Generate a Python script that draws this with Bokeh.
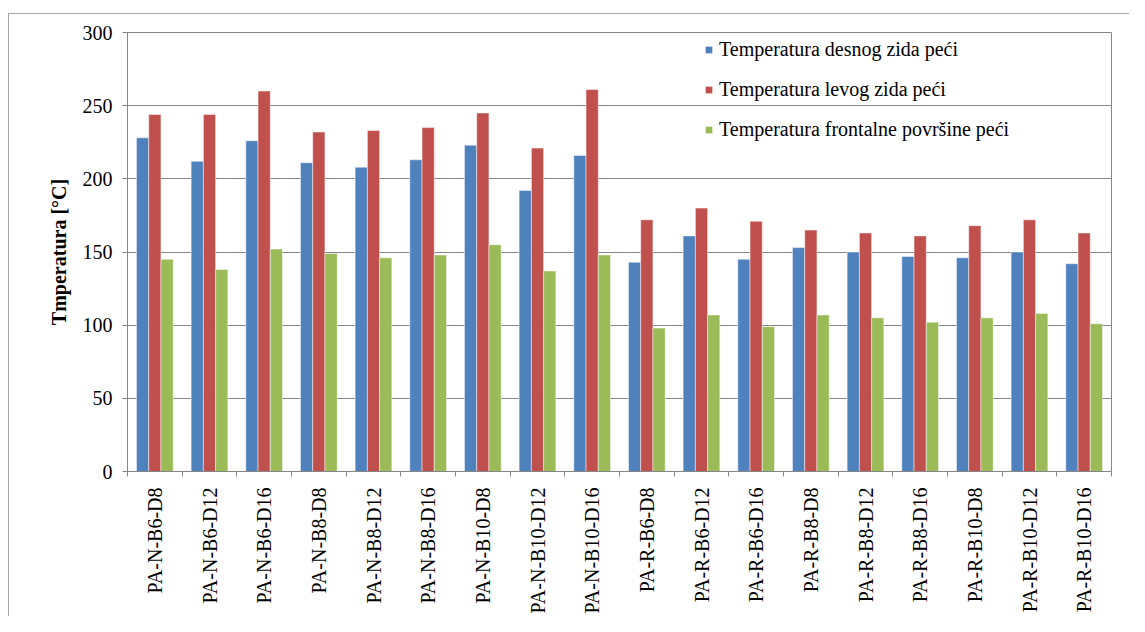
import math
from bokeh.plotting import figure
from bokeh.models import ColumnDataSource, FixedTicker, Legend, LegendItem, InlineStyleSheet
from bokeh.transform import dodge
from bokeh.embed import file_html
from bokeh.resources import INLINE

categories = ["PA-N-B6-D8", "PA-N-B6-D12", "PA-N-B6-D16", "PA-N-B8-D8", "PA-N-B8-D12",
              "PA-N-B8-D16", "PA-N-B10-D8", "PA-N-B10-D12", "PA-N-B10-D16",
              "PA-R-B6-D8", "PA-R-B6-D12", "PA-R-B6-D16", "PA-R-B8-D8", "PA-R-B8-D12",
              "PA-R-B8-D16", "PA-R-B10-D8", "PA-R-B10-D12", "PA-R-B10-D16"]
desni = [228, 212, 226, 211, 208, 213, 223, 192, 216, 143, 161, 145, 153, 150, 147, 146, 150, 142]
levi = [244, 244, 260, 232, 233, 235, 245, 221, 261, 172, 180, 171, 165, 163, 161, 168, 172, 163]
frontalna = [145, 138, 152, 149, 146, 148, 155, 137, 148, 98, 107, 99, 107, 105, 102, 105, 108, 101]
series_names = ["Temperatura desnog zida peći", "Temperatura levog zida peći",
                "Temperatura frontalne površine peći"]
colors = ["#4F81BD", "#C0504D", "#9BBB59"]
y_ticks = [0, 50, 100, 150, 200, 250, 300]

pos = list(range(1, len(categories) + 1))
source = ColumnDataSource(dict(x=pos, desni=desni, levi=levi, frontalna=frontalna))

FONT = "'Liberation Serif'"
FS = "20px"
border_css = InlineStyleSheet(css="""
:host { overflow: hidden; }
:host::after {
  content: ""; position: absolute; left: 8px; top: 13px; right: -20px; bottom: -20px;
  border: 1.5px solid #a6a6a6; pointer-events: none;
}
""")
p = figure(width=1129, height=616, output_backend="svg", toolbar_location=None,
           x_range=(0.5, len(categories) + 0.5), y_range=(0, 300),
           min_border_left=127, min_border_right=18, min_border_top=32, min_border_bottom=144,
           stylesheets=[border_css])

bw = 0.224
renderers = []
for off, col, c in zip([-bw, 0, bw], ["desni", "levi", "frontalna"], colors):
    r = p.vbar(x=dodge("x", off), top=col, width=bw, bottom=0, source=source,
               fill_color=c, line_color="white", line_alpha=0.6, line_width=0.8)
    renderers.append(r)

p.outline_line_color = "#868686"
p.outline_line_width = 1
p.xgrid.grid_line_color = None
p.ygrid.grid_line_color = "#868686"
p.ygrid.grid_line_width = 1
p.ygrid.ticker = FixedTicker(ticks=y_ticks)

# y axis
p.yaxis.ticker = FixedTicker(ticks=y_ticks)
p.yaxis.axis_label = "Tmperatura [°C]"
p.yaxis.axis_label_text_font = FONT
p.yaxis.axis_label_text_font_style = "bold"
p.yaxis.axis_label_text_font_size = FS
p.yaxis.axis_label_text_color = "black"
p.yaxis.axis_label_standoff = 10
p.yaxis.major_label_text_font = FONT
p.yaxis.major_label_text_font_size = FS
p.yaxis.major_label_text_color = "black"
p.yaxis.axis_line_color = "#868686"
p.yaxis.major_tick_line_color = "#868686"
p.yaxis.major_tick_out = 5
p.yaxis.major_tick_in = 0
p.yaxis.minor_tick_line_color = None
p.yaxis.major_label_standoff = 10

# x axis
p.xaxis.ticker = FixedTicker(ticks=pos, minor_ticks=[v + 0.5 for v in range(0, len(categories) + 1)])
p.xaxis.major_label_overrides = {v: c for v, c in zip(pos, categories)}
p.xaxis.major_label_orientation = math.pi / 2
p.xaxis.major_label_text_font = FONT
p.xaxis.major_label_text_font_size = FS
p.xaxis.major_label_text_color = "black"
p.xaxis.major_label_standoff = 10
p.xaxis.major_tick_line_color = None
p.xaxis.minor_tick_line_color = "#868686"
p.xaxis.minor_tick_out = 5
p.xaxis.minor_tick_in = 0
p.xaxis.axis_line_color = "#868686"

legend = Legend(items=[LegendItem(label=n, renderers=[r]) for n, r in zip(series_names, renderers)],
                location=(577, 330), padding=0, margin=0, spacing=16,
                glyph_width=9, glyph_height=9, label_height=24, label_standoff=6,
                label_text_font=FONT, label_text_font_size=FS, label_text_color="black",
                border_line_color=None, background_fill_alpha=0)
p.add_layout(legend, "center")

open("out.html", "w").write(file_html(p, INLINE))
